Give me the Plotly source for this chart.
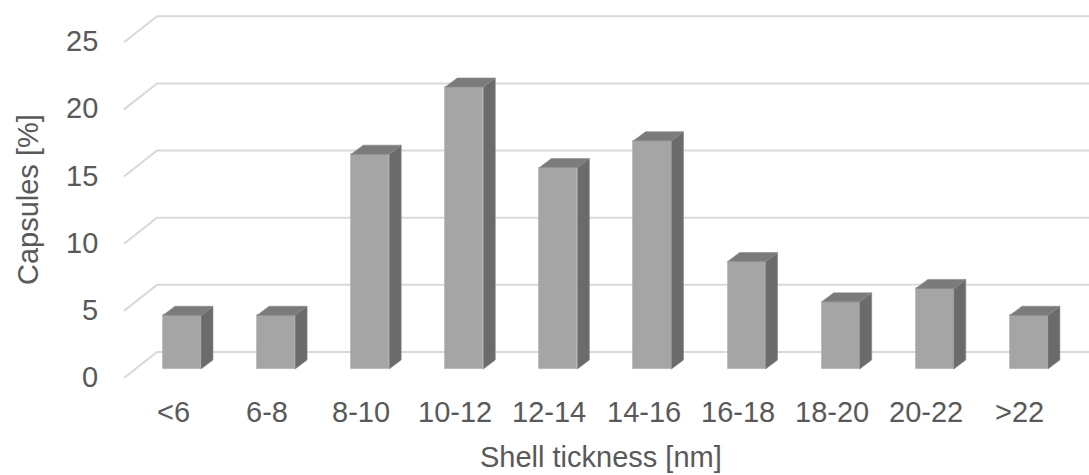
import plotly.graph_objects as go

# ---- data ----
categories = ["<6", "6-8", "8-10", "10-12", "12-14", "14-16", "16-18", "18-20", "20-22", ">22"]
capsules_pct = [4, 4, 16, 21, 15, 17, 8, 5, 6, 4]
y_ticks = [0, 5, 10, 15, 20, 25]
y_tick_labels = ["0", "5", "10", "15", "20", "25"]
x_title = "Shell tickness [nm]"
y_title = "Capsules [%]"

# ---- style / geometry (in axis units) ----
FRONT = "#a5a5a5"
SIDE = "#6b6b6b"
TOP = "#7b7b7b"
GRID = "#d9d9d9"
TEXT = "#595959"
FONT = "Liberation Sans, Arial, sans-serif"
FS = 29

BAR_W = 0.404          # front face width (category units)
DEPTH_X = 0.1275       # depth offset in x
DEPTH_Y = 0.670        # depth offset in y (value units)
BASE = -1.266          # front floor level
GRID_X0 = -0.2657      # back wall left edge
SLANT_X = -0.6164      # front-left end of floor slant
SLANT_Y = -1.936
X_MAX = 9.6387

idx = list(range(len(categories)))

fig = go.Figure()

# gridlines (back wall + slanted floor part), drawn below all traces
shapes = []
for t in y_ticks:
    shapes.append(dict(type="path", xref="x", yref="y", layer="below",
                       path=f"M {SLANT_X},{t + SLANT_Y} L {GRID_X0},{t} L {X_MAX + 1},{t}",
                       line=dict(color=GRID, width=2)))

# front faces
fig.add_trace(go.Bar(x=idx, y=capsules_pct, base=BASE, width=BAR_W,
                     marker=dict(color=FRONT, line=dict(color="#b4b4b4", width=0.8)),
                     showlegend=False, name="Capsules"))

# side faces
sx, sy = [], []
for i, v in zip(idx, capsules_pct):
    r = i + BAR_W / 2
    sx += [r, r + DEPTH_X, r + DEPTH_X, r, r, None]
    sy += [BASE, BASE + DEPTH_Y, BASE + v + DEPTH_Y, BASE + v, BASE, None]
fig.add_trace(go.Scatter(x=sx, y=sy, mode="lines", fill="toself", fillcolor=SIDE,
                         line=dict(color="#8a8a8a", width=0.6), hoverinfo="skip", showlegend=False))

# top faces
tx, ty = [], []
for i, v in zip(idx, capsules_pct):
    l, r = i - BAR_W / 2, i + BAR_W / 2
    top = BASE + v
    tx += [l, r, r + DEPTH_X, l + DEPTH_X, l, None]
    ty += [top, top, top + DEPTH_Y, top + DEPTH_Y, top, None]
fig.add_trace(go.Scatter(x=tx, y=ty, mode="lines", fill="toself", fillcolor=TOP,
                         line=dict(color="#8a8a8a", width=0.6), hoverinfo="skip", showlegend=False))

annotations = []
# y tick labels
for t, lab in zip(y_ticks, y_tick_labels):
    annotations.append(dict(x=-0.8757, y=t - 1.861, text=lab, showarrow=False,
                            xanchor="right", yanchor="middle",
                            font=dict(family=FONT, size=FS, color=TEXT)))
# x tick labels
for i, lab in zip(idx, categories):
    annotations.append(dict(x=i - 0.0956, y=-4.468, text=lab, showarrow=False,
                            xanchor="center", yanchor="middle",
                            font=dict(family=FONT, size=FS, color=TEXT)))
# axis titles
annotations.append(dict(x=4.453, y=-7.82, text=x_title, showarrow=False,
                        xanchor="center", yanchor="middle",
                        font=dict(family=FONT, size=FS, color=TEXT)))
annotations.append(dict(x=-1.6366, y=11.39, text=y_title, showarrow=False, textangle=-90,
                        xanchor="center", yanchor="middle",
                        font=dict(family=FONT, size=FS, color=TEXT)))

fig.update_layout(
    width=1089, height=475,
    margin=dict(l=0, r=0, t=0, b=0),
    paper_bgcolor="white", plot_bgcolor="white",
    xaxis=dict(range=[-1.9341, X_MAX], visible=False, fixedrange=True),
    yaxis=dict(range=[-9.158, 26.210], visible=False, fixedrange=True),
    annotations=annotations,
    shapes=shapes,
    bargap=0,
)

fig.write_html("out.html", config={"displayModeBar": False})
